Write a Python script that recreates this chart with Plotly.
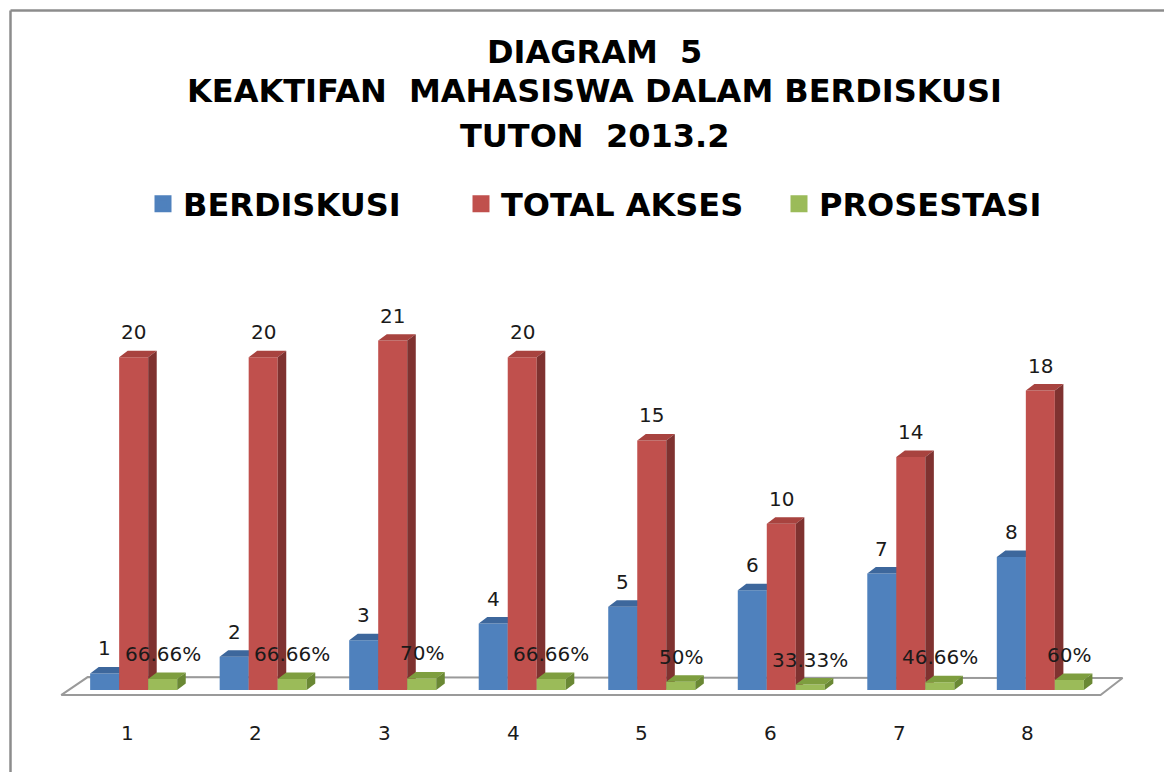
import plotly.graph_objects as go

# ---------------- data ----------------
categories = ["1", "2", "3", "4", "5", "6", "7", "8"]
berdiskusi = [1, 2, 3, 4, 5, 6, 7, 8]
total_akses = [20, 20, 21, 20, 15, 10, 14, 18]
prosestasi = [0.6666, 0.6666, 0.70, 0.6666, 0.50, 0.3333, 0.4666, 0.60]
prosestasi_labels = ["66.66%", "66.66%", "70%", "66.66%", "50%", "33.33%", "46.66%", "60%"]
series_names = ["BERDISKUSI", "TOTAL AKSES", "PROSESTASI"]
title_lines = ["DIAGRAM  5", "KEAKTIFAN  MAHASISWA DALAM BERDISKUSI", "TUTON  2013.2"]

# ---------------- styling ----------------
OFF = 8                       # default page body margin
W, H = 1172 - OFF, 772 - OFF
# page-pixel layout of the plot area
PL, PR, PT, PB = 43, 1131, 314, 730
ML, MT = PL - OFF, PT - OFF
MR, MB = W - (PR - OFF), H - (PB - OFF)
XR = [0.3, 8.7]
YR = [-2.4, 22.6]
PW, PH = PR - PL, PB - PT

def px_to_paper_x(px):
    return (px - PL) / PW

def py_to_paper_y(py):
    return (PB - py) / PH

BAR_W = 0.224          # width of one bar face (category units)
DDX = 0.066            # depth offset x
DDY = 0.39             # depth offset y
FACE = {
    "BERDISKUSI": ("#4F81BD", "#3D679C", "#385D8A"),
    "TOTAL AKSES": ("#C0504D", "#A8433F", "#7F3230"),
    "PROSESTASI": ("#9BBB59", "#7E9E3F", "#6A8834"),
}
LABEL_FONT = dict(family="DejaVu Sans", size=20, color="#1a1a1a")
BOLD_FONT = "DejaVu Sans, sans-serif"

fig = go.Figure()

xs = [i + 1 for i in range(len(categories))]

# floor (gray outline, white fill)
fl_x = [0.44, 0.645, 8.635, 8.465, 0.44]
fl_y = [-0.3, 0.78, 0.72, -0.3, -0.3]
fig.add_trace(go.Scatter(x=fl_x, y=fl_y, mode="lines", fill="toself",
                         fillcolor="#FFFFFF", line=dict(color="#9A9A9A", width=2),
                         hoverinfo="skip", showlegend=False))

all_series = [berdiskusi, total_akses, prosestasi]
for s_idx, (name, vals) in enumerate(zip(series_names, all_series)):
    front_c, top_c, side_c = FACE[name]
    fx, fy, tx, ty, sx, sy = [], [], [], [], [], []
    for xc, v in zip(xs, vals):
        x0 = xc + (s_idx - 1.5) * BAR_W
        x1 = x0 + BAR_W
        fx += [x0, x1, x1, x0, x0, None]
        fy += [0, 0, v, v, 0, None]
        tx += [x0, x1, x1 + DDX, x0 + DDX, x0, None]
        ty += [v, v, v + DDY, v + DDY, v, None]
        sx += [x1, x1 + DDX, x1 + DDX, x1, x1, None]
        sy += [0, DDY, v + DDY, v, 0, None]
    for px_, py_, col in ((fx, fy, front_c), (tx, ty, top_c), (sx, sy, side_c)):
        fig.add_trace(go.Scatter(x=px_, y=py_, mode="lines", fill="toself",
                                 fillcolor=col, line=dict(width=0, color=col),
                                 hoverinfo="skip", showlegend=False))
    # legend entry (square swatch)
    fig.add_trace(go.Bar(x=[None], y=[None], name=name,
                         marker=dict(color=front_c, line=dict(color=front_c, width=6))))

# data labels
annotations = []
label_sets = [
    [str(v) for v in berdiskusi],
    [str(v) for v in total_akses],
    prosestasi_labels,
]
for s_idx, (vals, labs) in enumerate(zip(all_series, label_sets)):
    for xc, v, lab in zip(xs, vals, labs):
        x0 = xc + (s_idx - 1.5) * BAR_W
        annotations.append(dict(x=x0 + BAR_W / 2, y=v, text=lab,
                                showarrow=False, yshift=25, font=LABEL_FONT,
                                xanchor="center", yanchor="middle"))

# category labels (below the floor)
for i, (xc, cat) in enumerate(zip(xs, categories)):
    annotations.append(dict(x=xc, yref="paper", y=py_to_paper_y(733), text=cat,
                            showarrow=False, xshift=-6.5 - 0.85 * i, font=LABEL_FONT,
                            xanchor="center", yanchor="middle"))

# title lines
for line, py in zip(title_lines, [52, 91, 136]):
    annotations.append(dict(xref="paper", yref="paper",
                            x=px_to_paper_x(594), y=py_to_paper_y(py),
                            text="<b>" + line + "</b>", showarrow=False,
                            font=dict(family=BOLD_FONT, size=32, color="#000000"),
                            xanchor="center", yanchor="middle"))

# chart frame (top and left edges visible)
shapes = [
    dict(type="line", xref="paper", yref="paper",
         x0=px_to_paper_x(10.5), x1=px_to_paper_x(1200),
         y0=py_to_paper_y(10.5), y1=py_to_paper_y(10.5),
         line=dict(color="#8C8C8C", width=2.5)),
    dict(type="line", xref="paper", yref="paper",
         x0=px_to_paper_x(10.5), x1=px_to_paper_x(10.5),
         y0=py_to_paper_y(10.5), y1=py_to_paper_y(800),
         line=dict(color="#8C8C8C", width=2.5)),
]

fig.update_layout(
    width=W, height=H,
    margin=dict(l=ML, r=MR, t=MT, b=MB, autoexpand=False),
    paper_bgcolor="#FFFFFF", plot_bgcolor="#FFFFFF",
    xaxis=dict(range=XR, visible=False, fixedrange=True),
    yaxis=dict(range=YR, visible=False, fixedrange=True),
    showlegend=True,
    legend=dict(orientation="h", x=px_to_paper_x(143), y=py_to_paper_y(204),
                xanchor="left", yanchor="middle",
                font=dict(family=BOLD_FONT, size=32, color="#000000", weight="bold"),
                entrywidth=273, entrywidthmode="pixels",
                bgcolor="rgba(0,0,0,0)", traceorder="normal"),
    annotations=annotations,
    shapes=shapes,
)

fig.write_html("out.html")
